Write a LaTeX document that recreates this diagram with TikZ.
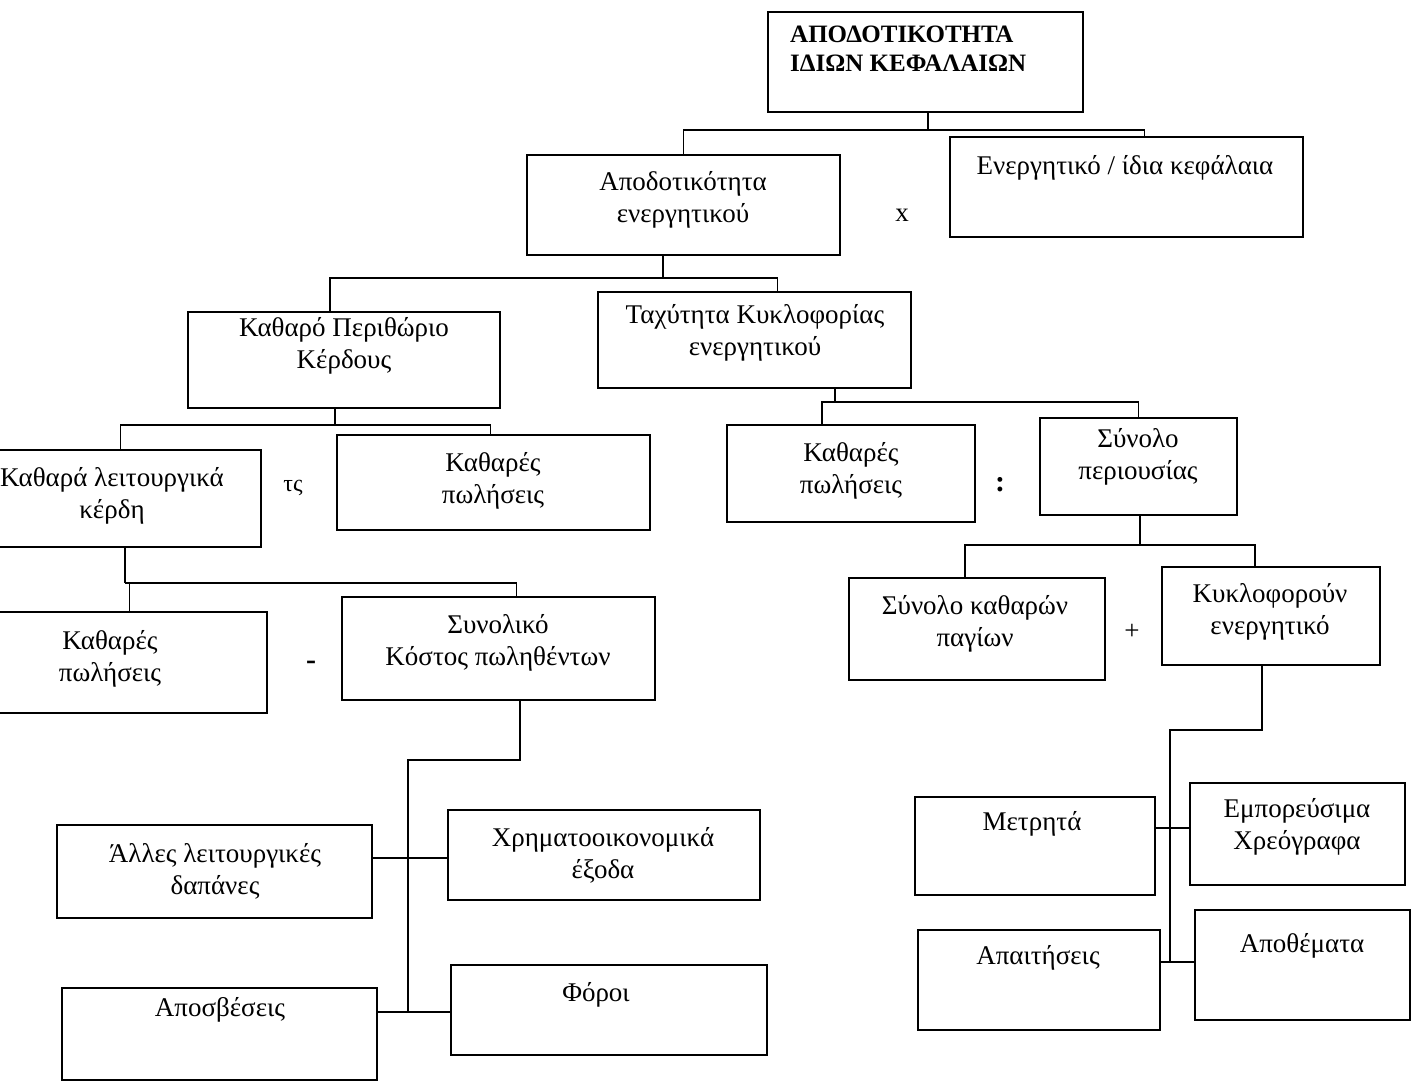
\documentclass[tikz,border=0pt]{standalone}
\usepackage{fontspec}
\setmainfont{Liberation Serif}
\begin{document}
\begin{tikzpicture}[x=1pt,y=-1pt,
  box/.style={draw,line width=1.6pt,rectangle,inner sep=0pt},
  txt/.style={align=center,font=\fontsize{27}{32}\selectfont,inner sep=0pt},
  op/.style={font=\fontsize{27}{30}\selectfont,inner sep=0pt},
  conn/.style={line width=1.6pt}]
\useasboundingbox (0,0) rectangle (1421,1084);
\fill[white] (0,0) rectangle (1421,1084);
% boxes
\node[box,minimum width=315pt,minimum height=100pt] (b1) at (925.5,62) {};
\node[box,minimum width=313pt,minimum height=100pt] (b2) at (683.5,205) {};
\node[box,minimum width=353pt,minimum height=100pt] (b3) at (1126.5,187) {};
\node[box,minimum width=312pt,minimum height=96pt] (b5) at (344,360) {};
\node[box,minimum width=313pt,minimum height=96pt] (b6) at (754.5,340) {};
\node[box,minimum width=269pt,minimum height=97pt] (b7) at (126.5,498.5) {};
\node[box,minimum width=313pt,minimum height=95pt] (b9) at (493.5,482.5) {};
\node[box,minimum width=248pt,minimum height=97pt] (b10) at (851,473.5) {};
\node[box,minimum width=197pt,minimum height=97pt] (b12) at (1138.5,466.5) {};
\node[box,minimum width=275pt,minimum height=101pt] (b13) at (129.5,662.5) {};
\node[box,minimum width=313pt,minimum height=103pt] (b15) at (498.5,648.5) {};
\node[box,minimum width=256pt,minimum height=102pt] (b16) at (977,629) {};
\node[box,minimum width=218pt,minimum height=98pt] (b18) at (1271,616) {};
\node[box,minimum width=315pt,minimum height=93pt] (b19) at (214.5,871.5) {};
\node[box,minimum width=312pt,minimum height=90pt] (b20) at (604,855) {};
\node[box,minimum width=315pt,minimum height=92pt] (b21) at (219.5,1034) {};
\node[box,minimum width=316pt,minimum height=90pt] (b22) at (609,1010) {};
\node[box,minimum width=240pt,minimum height=98pt] (b23) at (1035,846) {};
\node[box,minimum width=215pt,minimum height=102pt] (b24) at (1297.5,834) {};
\node[box,minimum width=242pt,minimum height=100pt] (b25) at (1039,980) {};
\node[box,minimum width=215pt,minimum height=110pt] (b26) at (1302.5,965) {};
% texts
\node[align=left,anchor=north west,inner sep=0pt,font=\fontsize{25}{29}\selectfont\bfseries] (t1) at (790,26) {ΑΠΟΔΟΤΙΚΟΤΗΤΑ\\ΙΔΙΩΝ ΚΕΦΑΛΑΙΩΝ};
\node[txt] (t2) at (683,200) {Αποδοτικότητα\\ενεργητικού};
\node[txt] (t3) at (1125,168) {Ενεργητικό / ίδια κεφάλαια};
\node[txt] (t5) at (344,346) {Καθαρό Περιθώριο\\Κέρδους};
\node[txt] (t6) at (755,333) {Ταχύτητα Κυκλοφορίας\\ενεργητικού};
\node[txt] (t7) at (112,496) {Καθαρά λειτουργικά\\κέρδη};
\node[txt] (t9) at (493,481) {Καθαρές\\πωλήσεις};
\node[txt] (t10) at (851,471) {Καθαρές\\πωλήσεις};
\node[txt] (t12) at (1138,457) {Σύνολο\\περιουσίας};
\node[txt] (t13) at (110,659) {Καθαρές\\πωλήσεις};
\node[txt] (t15) at (498,643) {Συνολικό\\Κόστος πωληθέντων};
\node[txt] (t16) at (975,624) {Σύνολο καθαρών\\παγίων};
\node[txt] (t18) at (1270,612) {Κυκλοφορούν\\ενεργητικό};
\node[txt] (t19) at (215,871) {Άλλες λειτουργικές\\δαπάνες};
\node[txt] (t20) at (603,855) {Χρηματοοικονομικά\\έξοδα};
\node[txt] (t21) at (220,1010) {Αποσβέσεις};
\node[txt] (t22) at (596,995) {Φόροι};
\node[txt] (t23) at (1032,824) {Μετρητά};
\node[txt] (t24) at (1297,827) {Εμπορεύσιμα\\Χρεόγραφα};
\node[txt] (t25) at (1038,958) {Απαιτήσεις};
\node[txt] (t26) at (1302,946) {Αποθέματα};
% operators
\node[op] (o1) at (902,215) {x};
\node[op,font=\fontsize{24}{26}\selectfont] (o2) at (293,488) {τς};
\node[op,font=\fontsize{30}{30}\selectfont\bfseries] (o3) at (1000,485) {:};
\node[op,font=\fontsize{30}{30}\selectfont\bfseries] (o4) at (311,665) {-};
\node[op] (o5) at (1132,632) {+};
% junctions
\coordinate (j1) at (928,130);
\coordinate (j2) at (663,278);
\coordinate (j3) at (335,425);
\coordinate (j4) at (835,402);
\coordinate (j5) at (125,583);
\coordinate (j6) at (1140,545);
\coordinate (k1) at (520,760);
\coordinate (k2) at (408,760);
\coordinate (k3) at (408,1012);
\coordinate (k4) at (408,858);
\coordinate (k5) at (1262,730);
\coordinate (k6) at (1170,730);
\coordinate (k7) at (1170,962);
\coordinate (k8) at (1170,828);
% connectors
\draw[conn] (j1 |- b1.south) -- (j1);
\draw[conn] (b2.north) |- (j1) -| ([xshift=18pt]b3.north);
\draw[conn] (j2 |- b2.south) -- (j2);
\draw[conn] ([xshift=-14pt]b5.north) |- (j2) -| ([xshift=23pt]b6.north);
\draw[conn] (j3 |- b5.south) -- (j3);
\draw[conn] ([xshift=-6pt]b7.north) |- (j3) -| ([xshift=-3pt]b9.north);
\draw[conn] (j4 |- b6.south) -- (j4);
\draw[conn] ([xshift=-29pt]b10.north) |- (j4) -| (b12.north);
\draw[conn] (j5 |- b7.south) -- (j5);
\draw[conn] (b13.north) |- (j5) -| ([xshift=18pt]b15.north);
\draw[conn] (j6 |- b12.south) -- (j6);
\draw[conn] ([xshift=-12pt]b16.north) |- (j6) -| ([xshift=-16pt]b18.north);
\draw[conn] (k1 |- b15.south) -- (k1) -- (k2) -- (k3);
\draw[conn] (b19.east |- k4) -- (b20.west |- k4);
\draw[conn] (b21.east |- k3) -- (b22.west |- k3);
\draw[conn] (k5 |- b18.south) -- (k5) -- (k6) -- (k7);
\draw[conn] (b23.east |- k8) -- (b24.west |- k8);
\draw[conn] (b25.east |- k7) -- (b26.west |- k7);
\end{tikzpicture}
\end{document}
